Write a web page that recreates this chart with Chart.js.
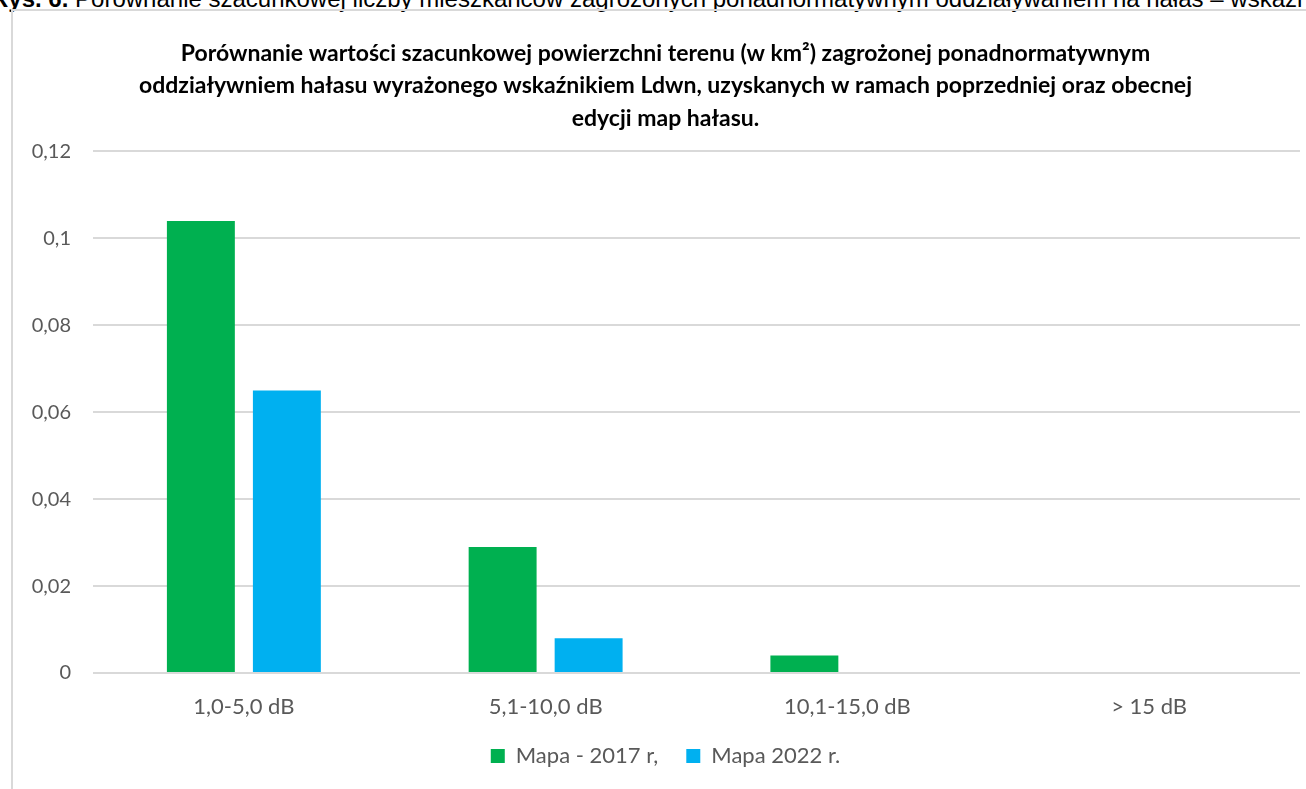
<!DOCTYPE html>
<html lang="pl">
<head>
<meta charset="utf-8">
<script src="https://cdn.jsdelivr.net/npm/chart.js@4/dist/chart.umd.min.js"></script>
<style>
  body { margin: 0; background: #fff; overflow: hidden; width: 1306px; height: 789px; position: relative; }
  #caption {
    position: absolute; left: -9px; top: -15px; white-space: nowrap;
    font-family: "Liberation Sans", Arial, sans-serif; font-size: 24px; color: #000;
  }
  #frame {
    position: absolute; left: 11px; top: 9px; width: 1400px; height: 900px;
    border-left: 2px solid #d9d9d9; border-top: 2px solid #d9d9d9;
  }
  #wrap { position: absolute; left: 0; top: 0; width: 1306px; height: 800px; }
</style>
</head>
<body>
<div id="caption"><b>Rys. 6.</b> Porównanie szacunkowej liczby mieszkańców zagrożonych ponadnormatywnym oddziaływaniem na hałas – wskaźnik Ldwn</div>
<div id="frame"></div>
<div id="wrap"><canvas id="myChart"></canvas></div>
<script>
// przedziały przekroczeń i powierzchnia w km2 dla obu edycji map
const categories = ['1,0-5,0 dB', '5,1-10,0 dB', '10,1-15,0 dB', '> 15 dB'];
const map2017 = [0.104, 0.029, 0.004, 0];
const map2022 = [0.065, 0.008, 0, 0];
const seriesNames = ['Mapa - 2017 r,', 'Mapa 2022 r.'];
const titleLines = [
    'Porównanie wartości szacunkowej powierzchni terenu (w km²) zagrożonej ponadnormatywnym',
    'oddziaływniem hałasu wyrażonego wskaźnikiem Ldwn, uzyskanych w ramach poprzedniej oraz obecnej',
    'edycji map hałasu.'
];

const FONT = 'Lato, "Open Sans", sans-serif';
const GREY = '#595959';

document.addEventListener('DOMContentLoaded', function () {
    var ctx = document.getElementById('myChart').getContext('2d');
    var myChart = new Chart(ctx, {
        type: 'bar',
        data: {
            labels: categories,
            datasets: [
                {
                    label: seriesNames[0],
                    data: map2017,
                    backgroundColor: '#00b050',
                    categoryPercentage: 0.57,
                    barPercentage: 0.79
                },
                {
                    label: seriesNames[1],
                    data: map2022,
                    backgroundColor: '#00b0f0',
                    categoryPercentage: 0.57,
                    barPercentage: 0.79
                }
            ]
        },
        options: {
            responsive: true,
            maintainAspectRatio: false,
            animation: false,
            // canvas jest wyższy od okna, dół legendy wypada przy krawędzi
            layout: { padding: { left: 31, right: 6, top: 12, bottom: 23 } },
            plugins: {
                title: {
                    display: true,
                    text: titleLines,
                    color: '#000',
                    font: { family: FONT, size: 23, weight: 'bold', lineHeight: 1.413 },
                    padding: { top: 25, bottom: 17 }
                },
                legend: {
                    position: 'bottom',
                    labels: {
                        color: GREY,
                        boxWidth: 14,
                        boxHeight: 14,
                        padding: 28,
                        font: { family: FONT, size: 22 }
                    }
                },
                tooltip: { enabled: false }
            },
            scales: {
                x: {
                    afterFit: function (scale) { scale.height = 44; },
                    grid: { display: false },
                    border: { display: false },
                    ticks: { color: GREY, padding: 13, font: { family: FONT, size: 22 } }
                },
                y: {
                    min: 0,
                    max: 0.12,
                    afterFit: function (scale) { scale.width = 62; },
                    grid: { color: '#d9d9d9', lineWidth: 2, drawTicks: false },
                    border: { display: false },
                    ticks: {
                        stepSize: 0.02,
                        color: GREY,
                        padding: 22,
                        font: { family: FONT, size: 20 },
                        callback: function (v) {
                            return String(Math.round(v * 100) / 100).replace('.', ',');
                        }
                    }
                }
            }
        }
    });
});
</script>
</body>
</html>
